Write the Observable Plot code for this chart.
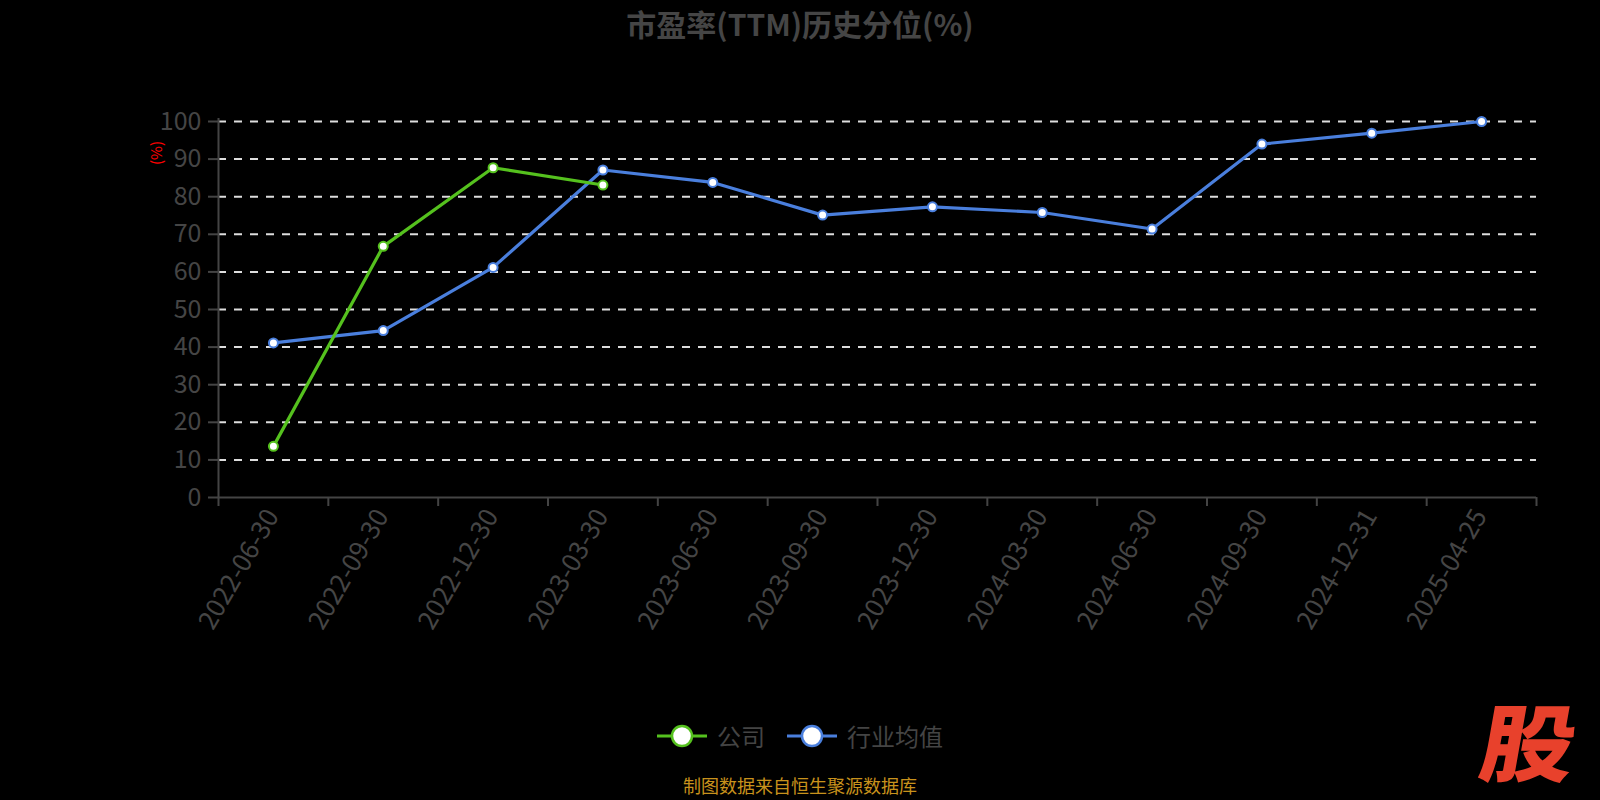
<!DOCTYPE html>
<html>
<head>
<meta charset="utf-8">
<script src="https://cdn.jsdelivr.net/npm/d3@7"></script>
<script src="https://cdn.jsdelivr.net/npm/@observablehq/plot@0.6"></script>
<style>
  html, body { margin: 0; padding: 0; background: #000; }
  #wrap { position: relative; width: 1600px; height: 800px; background: #000; overflow: hidden;
          font-family: "Noto Sans CJK SC", "Noto Sans", sans-serif; }
  #chart { position: absolute; left: 0; top: 0; }
  .title { position: absolute; left: 0; width: 1600px; top: 3px; text-align: center;
           font-size: 30px; font-weight: bold; color: #454545; line-height: 40px; }
  .ylab { position: absolute; left: 146px; top: 145px; width: 20px; height: 20px; color: #ff0000;
          font-size: 15px; transform: rotate(-90deg); transform-origin: center; text-align: center; line-height: 20px; white-space: nowrap; }
  .legend { position: absolute; left: 0; width: 1600px; top: 721px; display: flex; justify-content: center; align-items: center;
            font-size: 24px; color: #444; line-height: 30px; }
  .legend .item { display: flex; align-items: center; margin: 0 11px; }
  .legend svg { margin-right: 10px; }
  .caption { position: absolute; left: 0; width: 1600px; top: 775px; text-align: center; font-size: 18px; color: #c8921c; line-height: 20px; }
  .mark { position: absolute; left: 1490px; top: 697px; font-size: 84px; font-weight: 900; color: #e8412c;
          transform: skewX(-10deg) scaleX(1.12); transform-origin: left top; line-height: 84px; height: 84px; }
</style>
</head>
<body>
<div id="wrap">
  <div id="chart"></div>
  <div class="title">市盈率(TTM)历史分位(%)</div>
  <div class="ylab">(%)</div>
  <div class="legend" id="legend"></div>
  <div class="caption">制图数据来自恒生聚源数据库</div>
  <div class="mark">股</div>
</div>
<script>
// ---- data ----
const dates = ["2022-06-30","2022-09-30","2022-12-30","2023-03-30","2023-06-30","2023-09-30",
               "2023-12-30","2024-03-30","2024-06-30","2024-09-30","2024-12-31","2025-04-25"];
const companyValues = [13.6, 66.8, 87.7, 83.1];
const industryValues = [41.1, 44.4, 61.2, 87.1, 83.8, 75.1, 77.3, 75.8, 71.4, 94.0, 96.9, 100.0];
const yTicks = [0, 10, 20, 30, 40, 50, 60, 70, 80, 90, 100];
const seriesNames = ["公司", "行业均值"];
const colors = ["#55c11e", "#4a7fdd"];

const company = companyValues.map((v, i) => ({date: dates[i], value: v}));
const industry = industryValues.map((v, i) => ({date: dates[i], value: v}));

// ---- layout ----
const W = 1600, H = 800;
const mL = 218, mR = 64, mT = 121, mB = 303;
const step = (W - mL - mR) / dates.length;
const plotH = H - mT - mB;
const axisColor = "#444";

const chart = Plot.plot({
  width: W, height: H,
  marginLeft: mL, marginRight: mR, marginTop: mT, marginBottom: mB,
  style: {background: "#000", color: axisColor, fontFamily: "Noto Sans CJK SC, Noto Sans, sans-serif"},
  x: {type: "point", domain: dates, padding: 0.5, round: false},
  y: {domain: [0, 100]},
  marks: [
    Plot.ruleY(yTicks.filter(d => d > 0), {stroke: "#dddddd", strokeWidth: 2, strokeDasharray: "8,8"}),
    Plot.axisY({ticks: yTicks, tickSize: 10, tickPadding: 7, fontSize: 25, stroke: axisColor, strokeWidth: 2, fill: "#454545", label: null}),
    Plot.axisX({tickSize: 0, tickPadding: 14, tickRotate: -60, fontSize: 26, fill: "#454545", label: null, dx: -1}),
    // y axis line
    Plot.ruleX([dates[0]], {x: d => d, dx: -step / 2, stroke: axisColor, strokeWidth: 2, insetTop: -3}),
    // x axis line
    Plot.ruleY([0], {stroke: axisColor, strokeWidth: 2}),
    // category boundary ticks
    Plot.ruleX(dates, {x: d => d, dx: -step / 2, insetTop: plotH, insetBottom: -9, stroke: axisColor, strokeWidth: 2}),
    Plot.ruleX([dates[dates.length - 1]], {x: d => d, dx: step / 2, insetTop: plotH, insetBottom: -9, stroke: axisColor, strokeWidth: 2}),
    // series
    Plot.line(industry, {x: "date", y: "value", stroke: colors[1], strokeWidth: 3.2}),
    Plot.line(company, {x: "date", y: "value", stroke: colors[0], strokeWidth: 3.2}),
    Plot.dot(industry, {x: "date", y: "value", r: 4.5, fill: "#fff", stroke: colors[1], strokeWidth: 2}),
    Plot.dot(company, {x: "date", y: "value", r: 4.5, fill: "#fff", stroke: colors[0], strokeWidth: 2})
  ]
});
document.getElementById("chart").appendChild(chart);

// legend
const legend = document.getElementById("legend");
seriesNames.forEach((name, i) => {
  const item = document.createElement("div");
  item.className = "item";
  item.innerHTML = `<svg width="50" height="26"><line x1="0" y1="13" x2="50" y2="13" stroke="${colors[i]}" stroke-width="3"/>` +
    `<circle cx="25" cy="13" r="10" fill="#fff" stroke="${colors[i]}" stroke-width="2.5"/></svg><span>${name}</span>`;
  legend.appendChild(item);
});
</script>
</body>
</html>
